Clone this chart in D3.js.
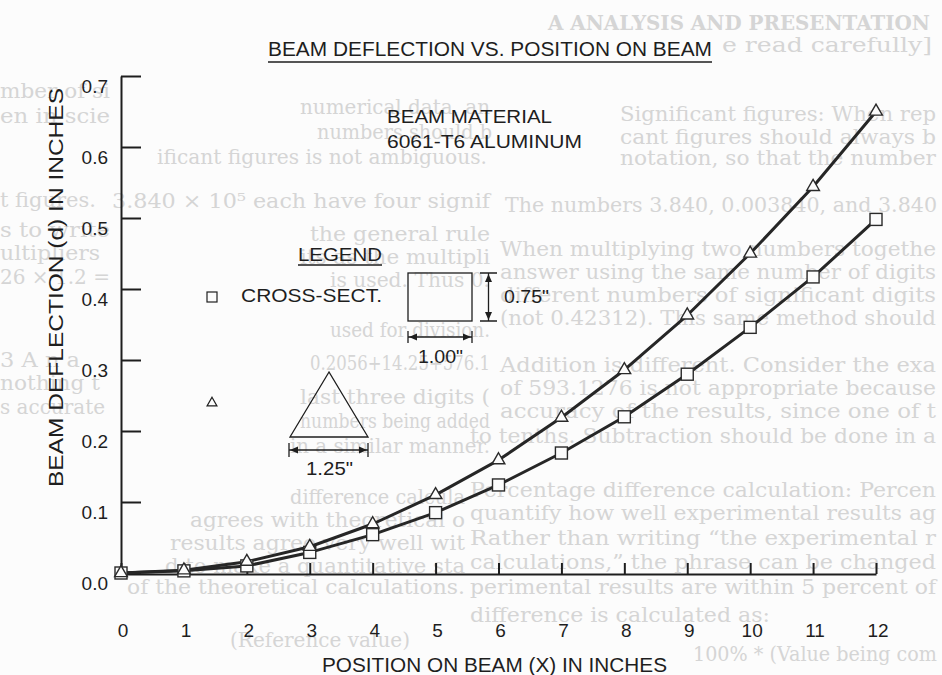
<!DOCTYPE html>
<html>
<head>
<meta charset="utf-8">
<script src="https://cdn.jsdelivr.net/npm/d3@7"></script>
<style>
  html, body { margin: 0; padding: 0; background: #fcfcfc; }
  svg { display: block; font-family: "Liberation Sans", Arial, sans-serif; }
</style>
</head>
<body>
<svg id="chart" width="942" height="675"></svg>
<script>
// beam data
const positions = [0, 1, 2, 3, 4, 5, 6, 7, 8, 9, 10, 11, 12];
const triangleDefl = [0.0, 0.004, 0.016, 0.037, 0.069, 0.110, 0.159, 0.219, 0.286, 0.363, 0.450, 0.544, 0.650];
const squareDefl = [0.0, 0.003, 0.010, 0.029, 0.054, 0.085, 0.124, 0.169, 0.220, 0.280, 0.346, 0.417, 0.498];
const yTicks = [0, 0.1, 0.2, 0.3, 0.4, 0.5, 0.6, 0.7];
const yTickLabels = ['0.0', '0.1', '0.2', '0.3', '0.4', '0.5', '0.6', '0.7'];
const xTickLabels = ['0', '1', '2', '3', '4', '5', '6', '7', '8', '9', '10', '11', '12'];

// faint print showing through from the other side of the page: x, baseline, text, span
const bgLines = [
    [548, 30, 'A ANALYSIS AND PRESENTATION', 382],
    [722, 52, 'e read carefully]', 210],
    [0, 98, 'mber of si', 110],
    [300, 114, 'numerical data, an', 190],
    [620, 121, 'Significant figures: When rep', 316],
    [0, 123, 'en in scie', 110],
    [317, 139, 'numbers should b', 175],
    [620, 144, 'cant figures should always b', 316],
    [157, 164, 'ificant figures is not ambiguous.', 330],
    [620, 165, 'notation, so that the number', 316],
    [0, 207, 't figures.', 96],
    [112, 208, '3.840 × 10⁵ each have four signif', 378],
    [505, 212, 'The numbers 3.840, 0.003840, and 3.840', 432],
    [0, 237, 's to write', 110],
    [310, 241, 'the general rule', 180],
    [500, 256, 'When multiplying two numbers togethe', 436],
    [0, 260, 'ultipliers', 100],
    [300, 264, 'its as the multipli', 190],
    [500, 279, 'answer using the same number of digits', 436],
    [0, 284, '26 × 1.2 =', 110],
    [330, 287, 'is used. Thus 0.', 160],
    [500, 302, 'different numbers of significant digits', 436],
    [500, 325, '(not 0.42312). This same method should', 436],
    [330, 337, 'used for division.', 160],
    [0, 367, '3 A n a', 80],
    [310, 370, '0.2056+14.25+576.1', 180],
    [500, 372, 'Addition is different. Consider the exa', 436],
    [0, 390, 'nothing t', 100],
    [500, 395, 'of 593.1276 is not appropriate because', 436],
    [300, 404, 'last three digits (', 190],
    [0, 414, 's accurate', 105],
    [500, 418, 'accuracy of the results, since one of t', 436],
    [300, 428, 'numbers being added', 190],
    [470, 443, 'to tenths. Subtraction should be done in a', 466],
    [290, 453, 'in a similar manner.', 200],
    [470, 497, 'Percentage difference calculation: Percen', 466],
    [290, 504, 'difference calcula', 175],
    [470, 520, 'quantify how well experimental results ag', 466],
    [190, 527, 'agrees with theoretical o', 275],
    [470, 545, 'Rather than writing \u201cthe experimental r', 466],
    [170, 550, 'results agree very well wit', 295],
    [470, 569, 'calculations,\u201d the phrase can be changed', 466],
    [165, 573, 'd to make a quantitative sta', 300],
    [470, 594, 'perimental results are within 5 percent of', 466],
    [127, 594, 'of the theoretical calculations.', 338],
    [470, 622, 'difference is calculated as:', 300],
    [230, 647, '(Reference value)', 180],
    [693, 661, '100% * (Value being com', 244]
];

const svg = d3.select('#chart');
const ink = '#1e1e1e';

svg.append('rect').attr('width', 942).attr('height', 675).attr('fill', '#fcfcfc');

svg.append('g').selectAll('text').data(bgLines).join('text')
    .attr('x', d => d[0]).attr('y', d => d[1])
    .attr('font-family', '"DejaVu Serif", serif')
    .attr('font-size', 20)
    .attr('font-weight', (d, i) => i === 0 ? 'bold' : 'normal')
    .attr('textLength', d => d[3]).attr('lengthAdjust', 'spacingAndGlyphs')
    .attr('fill', '#d5d5d5')
    .text(d => d[2]);

const x = d3.scaleLinear().domain([0, 12]).range([121, 876]);
const y = d3.scaleLinear().domain([0, 0.7]).range([573, 76]);

// title
svg.append('text').attr('x', 268).attr('y', 56)
    .attr('font-size', 20).attr('fill', ink)
    .attr('textLength', 444).attr('lengthAdjust', 'spacingAndGlyphs')
    .text('BEAM DEFLECTION VS. POSITION ON BEAM');
svg.append('line').attr('x1', 268).attr('x2', 712).attr('y1', 62).attr('y2', 62)
    .attr('stroke', ink).attr('stroke-width', 1.5);

// axes, ticks pointing into the plot
const yAxis = svg.append('g').attr('transform', 'translate(121,0)')
    .call(d3.axisRight(y).tickValues(yTicks).tickSize(20).tickSizeOuter(0).tickFormat(''));
const xAxis = svg.append('g').attr('transform', 'translate(0,574)')
    .call(d3.axisTop(x).tickValues(positions).tickSize(11).tickSizeOuter(0).tickFormat(''));
[yAxis, xAxis].forEach(a => a.selectAll('path, line').attr('stroke', ink).attr('stroke-width', 2));

svg.append('g').selectAll('text').data(yTicks).join('text')
    .attr('x', 108).attr('y', d => y(d) + 17)
    .attr('text-anchor', 'end').attr('font-size', 19).attr('fill', ink)
    .text((d, i) => yTickLabels[i]);

svg.append('g').selectAll('text').data(positions).join('text')
    .attr('x', d => x(d) + 2).attr('y', 637)
    .attr('text-anchor', 'middle').attr('font-size', 19).attr('fill', ink)
    .text((d, i) => xTickLabels[i]);

svg.append('text').attr('x', 322).attr('y', 672)
    .attr('font-size', 20).attr('fill', ink)
    .attr('textLength', 345).attr('lengthAdjust', 'spacingAndGlyphs')
    .text('POSITION ON BEAM (X) IN INCHES');

svg.append('text').attr('transform', 'translate(63,287.5) rotate(-90)')
    .attr('text-anchor', 'middle').attr('font-size', 20).attr('fill', ink)
    .attr('textLength', 399).attr('lengthAdjust', 'spacingAndGlyphs')
    .text('BEAM DEFLECTION (d) IN INCHES');

// material note
svg.append('text').attr('x', 387).attr('y', 123).attr('font-size', 19).attr('fill', ink)
    .attr('textLength', 165).attr('lengthAdjust', 'spacingAndGlyphs').text('BEAM MATERIAL');
svg.append('text').attr('x', 387).attr('y', 148).attr('font-size', 19).attr('fill', ink)
    .attr('textLength', 195).attr('lengthAdjust', 'spacingAndGlyphs').text('6061-T6 ALUMINUM');

// series
const renderPath = d3.line()
    .x((d, i) => x(positions[i]))
    .y(d => y(d));

[triangleDefl, squareDefl].forEach(s => {
    svg.append('path').datum(s).attr('d', renderPath)
        .attr('fill', 'none').attr('stroke', '#262626').attr('stroke-width', 3)
        .attr('stroke-linejoin', 'round');
});

svg.append('g').selectAll('rect').data(squareDefl).join('rect')
    .attr('x', (d, i) => x(positions[i]) - 6).attr('y', d => y(d) - 6)
    .attr('width', 12).attr('height', 12)
    .attr('fill', '#fcfcfc').attr('stroke', '#2a2a2a').attr('stroke-width', 1.4);

const tri = d3.symbol(d3.symbolTriangle);
svg.append('g').selectAll('path').data(triangleDefl).join('path')
    .attr('transform', (d, i) => `translate(${x(positions[i])},${y(d)})`)
    .attr('d', tri.size(70))
    .attr('fill', '#fcfcfc').attr('stroke', '#2a2a2a').attr('stroke-width', 1.4);

// legend
const leg = svg.append('g').attr('fill', ink);
leg.append('text').attr('x', 298).attr('y', 261).attr('font-size', 19)
    .attr('textLength', 84).attr('lengthAdjust', 'spacingAndGlyphs').text('LEGEND');
leg.append('line').attr('x1', 298).attr('x2', 382).attr('y1', 265).attr('y2', 265)
    .attr('stroke', ink).attr('stroke-width', 1.3);
leg.append('rect').attr('x', 207).attr('y', 292).attr('width', 10).attr('height', 10)
    .attr('fill', 'none').attr('stroke', ink).attr('stroke-width', 1.2);
leg.append('text').attr('x', 241).attr('y', 302).attr('font-size', 19)
    .attr('textLength', 141).attr('lengthAdjust', 'spacingAndGlyphs').text('CROSS-SECT.');
leg.append('path').attr('transform', 'translate(212,403)').attr('d', tri.size(42))
    .attr('fill', 'none').attr('stroke', ink).attr('stroke-width', 1.2);

const thin = g => g.attr('stroke', ink).attr('stroke-width', 1.3).attr('fill', 'none');
function arrow(px, py, dx, dy) {
    // filled head with its tip at (px,py), pointing along (dx,dy)
    const l = 8, w = 3.5;
    const bx = px - dx * l, by = py - dy * l;
    leg.append('path')
        .attr('d', `M${px},${py}L${bx - dy * w},${by + dx * w}L${bx + dy * w},${by - dx * w}Z`)
        .attr('fill', ink);
}

// rectangular section 1.00 x 0.75
leg.append('rect').attr('x', 408).attr('y', 273).attr('width', 64).attr('height', 48).call(thin);
leg.append('path').attr('d', 'M480,273H497M480,321H497M488.5,273V321').call(thin);
arrow(488.5, 274, 0, -1);
arrow(488.5, 320, 0, 1);
leg.append('text').attr('x', 504).attr('y', 303).attr('font-size', 19)
    .attr('textLength', 45).attr('lengthAdjust', 'spacingAndGlyphs').text('0.75"');
leg.append('path').attr('d', 'M408,331V343M472,331V343M408,337H472').call(thin);
arrow(409, 337, -1, 0);
arrow(471, 337, 1, 0);
leg.append('text').attr('x', 418).attr('y', 363).attr('font-size', 19)
    .attr('textLength', 45).attr('lengthAdjust', 'spacingAndGlyphs').text('1.00"');

// triangular section 1.25
leg.append('path').attr('d', 'M329,372L290,437H368Z').call(thin);
leg.append('path').attr('d', 'M289,443V457M368,443V457M289,450H368').call(thin);
arrow(290, 450, -1, 0);
arrow(367, 450, 1, 0);
leg.append('text').attr('x', 306).attr('y', 475).attr('font-size', 19)
    .attr('textLength', 47).attr('lengthAdjust', 'spacingAndGlyphs').text('1.25"');
</script>
</body>
</html>
